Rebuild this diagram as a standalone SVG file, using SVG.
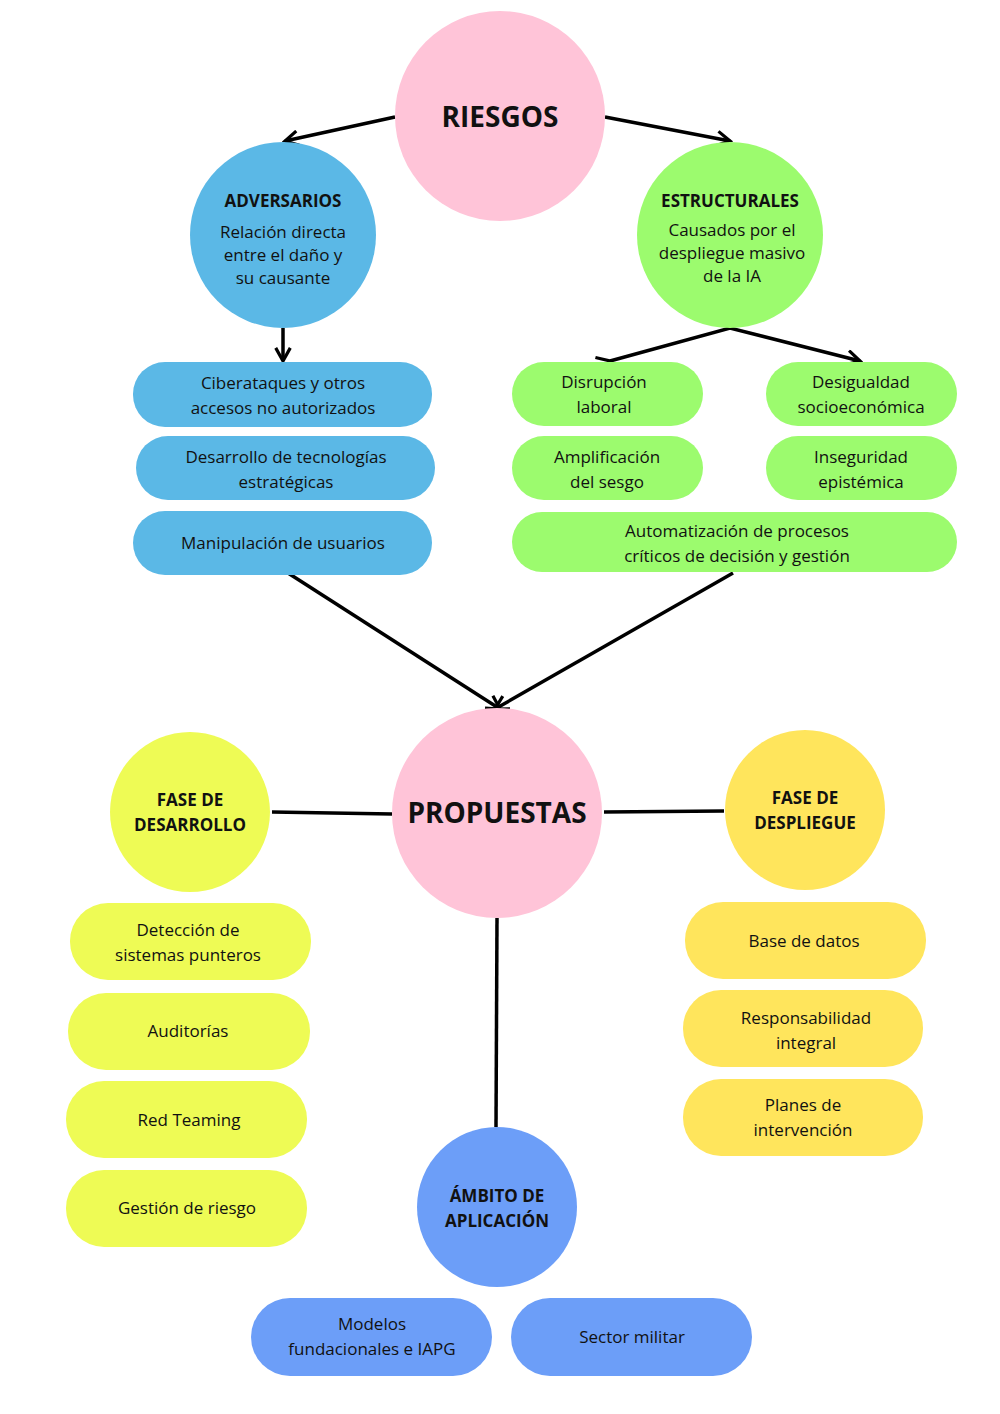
<svg xmlns="http://www.w3.org/2000/svg" width="1000" height="1414" viewBox="0 0 1000 1414">
<defs>
<marker id="ah" viewBox="0 0 12 12" refX="10" refY="6" markerWidth="5" markerHeight="5" orient="auto"><path d="M1,1 L10,6 L1,11" fill="none" stroke="#000" stroke-width="2.2"/></marker>
<style>
text{font-family:"Open Sans","Liberation Sans",sans-serif;fill:#111;text-anchor:middle}
.t{font-size:17px}
.h{font-size:17px;font-weight:bold}
.big{font-size:28px;font-weight:bold}
.c{stroke:#000;stroke-width:3.5;fill:none}
.pink{fill:#FFC4D8}.blue{fill:#5BB8E6}.green{fill:#9CFB6E}.lime{fill:#EEFB55}.yel{fill:#FFE55C}.peri{fill:#6C9EF8}
</style>
</defs>
<rect width="1000" height="1414" fill="#fff"/>
<g id="connectors">
<line class="c" x1="395" y1="117" x2="285" y2="141" marker-end="url(#ah)"/>
<line class="c" x1="605" y1="117" x2="730" y2="141" marker-end="url(#ah)"/>
<line class="c" x1="283" y1="328" x2="283" y2="361" marker-end="url(#ah)"/>
<polyline class="c" points="610,361 730,328 860,361" marker-start="url(#ah)" marker-end="url(#ah)"/>
<line class="c" x1="288" y1="573" x2="500" y2="709" marker-end="url(#ah)"/>
<line class="c" x1="733" y1="573" x2="495" y2="709" marker-end="url(#ah)"/>
<line class="c" x1="272" y1="812" x2="392" y2="814"/>
<line class="c" x1="604" y1="812" x2="724" y2="811"/>
<line class="c" x1="497" y1="918" x2="496" y2="1127"/>
</g>
<g id="riesgos"><circle class="pink" cx="500" cy="116" r="105"/><text class="big" x="500" y="127">RIESGOS</text></g>
<g id="adversarios"><circle class="blue" cx="283" cy="235" r="93"/><text class="h" x="283" y="207">ADVERSARIOS</text><text class="t" x="283" y="238">Relación directa</text><text class="t" x="283" y="261">entre el daño y</text><text class="t" x="283" y="284">su causante</text></g>
<g id="estructurales"><circle class="green" cx="730" cy="235" r="93"/><text class="h" x="730" y="207">ESTRUCTURALES</text><text class="t" x="732" y="236">Causados por el</text><text class="t" x="732" y="259">despliegue masivo</text><text class="t" x="732" y="282">de la IA</text></g>
<g id="ciber"><rect class="blue" x="133" y="362" width="299" height="65" rx="32"/><text class="t" x="283" y="389">Ciberataques y otros</text><text class="t" x="283" y="414">accesos no autorizados</text></g>
<g id="desarrollo-tec"><rect class="blue" x="136" y="436" width="299" height="64" rx="32"/><text class="t" x="286" y="463">Desarrollo de tecnologías</text><text class="t" x="286" y="488">estratégicas</text></g>
<g id="manipulacion"><rect class="blue" x="133" y="511" width="299" height="64" rx="32"/><text class="t" x="283" y="549">Manipulación de usuarios</text></g>
<g id="disrupcion"><rect class="green" x="512" y="362" width="191" height="64" rx="32"/><text class="t" x="604" y="388">Disrupción</text><text class="t" x="604" y="413">laboral</text></g>
<g id="desigualdad"><rect class="green" x="766" y="362" width="191" height="64" rx="32"/><text class="t" x="861" y="388">Desigualdad</text><text class="t" x="861" y="413">socioeconómica</text></g>
<g id="amplificacion"><rect class="green" x="512" y="436" width="191" height="64" rx="32"/><text class="t" x="607" y="463">Amplificación</text><text class="t" x="607" y="488">del sesgo</text></g>
<g id="inseguridad"><rect class="green" x="766" y="436" width="191" height="64" rx="32"/><text class="t" x="861" y="463">Inseguridad</text><text class="t" x="861" y="488">epistémica</text></g>
<g id="automatizacion"><rect class="green" x="512" y="512" width="445" height="60" rx="30"/><text class="t" x="737" y="537">Automatización de procesos</text><text class="t" x="737" y="562">críticos de decisión y gestión</text></g>
<g id="propuestas"><circle class="pink" cx="497" cy="813" r="105"/><text class="big" x="497" y="823">PROPUESTAS</text></g>
<g id="fase-desarrollo"><circle class="lime" cx="190" cy="812" r="80"/><text class="h" x="190" y="806">FASE DE</text><text class="h" x="190" y="831">DESARROLLO</text></g>
<g id="fase-despliegue"><circle class="yel" cx="805" cy="810" r="80"/><text class="h" x="805" y="804">FASE DE</text><text class="h" x="805" y="829">DESPLIEGUE</text></g>
<g id="ambito"><circle class="peri" cx="497" cy="1207" r="80"/><text class="h" x="497" y="1202">ÁMBITO DE</text><text class="h" x="497" y="1227">APLICACIÓN</text></g>
<g id="deteccion"><rect class="lime" x="70" y="903" width="241" height="77" rx="38"/><text class="t" x="188" y="936">Detección de</text><text class="t" x="188" y="961">sistemas punteros</text></g>
<g id="auditorias"><rect class="lime" x="68" y="993" width="242" height="77" rx="38"/><text class="t" x="188" y="1037">Auditorías</text></g>
<g id="red-teaming"><rect class="lime" x="66" y="1081" width="241" height="77" rx="38"/><text class="t" x="189" y="1126">Red Teaming</text></g>
<g id="gestion"><rect class="lime" x="66" y="1170" width="241" height="77" rx="38"/><text class="t" x="187" y="1214">Gestión de riesgo</text></g>
<g id="base-datos"><rect class="yel" x="685" y="902" width="241" height="77" rx="38"/><text class="t" x="804" y="947">Base de datos</text></g>
<g id="responsabilidad"><rect class="yel" x="683" y="990" width="240" height="77" rx="38"/><text class="t" x="806" y="1024">Responsabilidad</text><text class="t" x="806" y="1049">integral</text></g>
<g id="planes"><rect class="yel" x="683" y="1079" width="240" height="77" rx="38"/><text class="t" x="803" y="1111">Planes de</text><text class="t" x="803" y="1136">intervención</text></g>
<g id="modelos"><rect class="peri" x="251" y="1298" width="241" height="78" rx="39"/><text class="t" x="372" y="1330">Modelos</text><text class="t" x="372" y="1355">fundacionales e IAPG</text></g>
<g id="militar"><rect class="peri" x="511" y="1298" width="241" height="78" rx="39"/><text class="t" x="632" y="1343">Sector militar</text></g>
</svg>
